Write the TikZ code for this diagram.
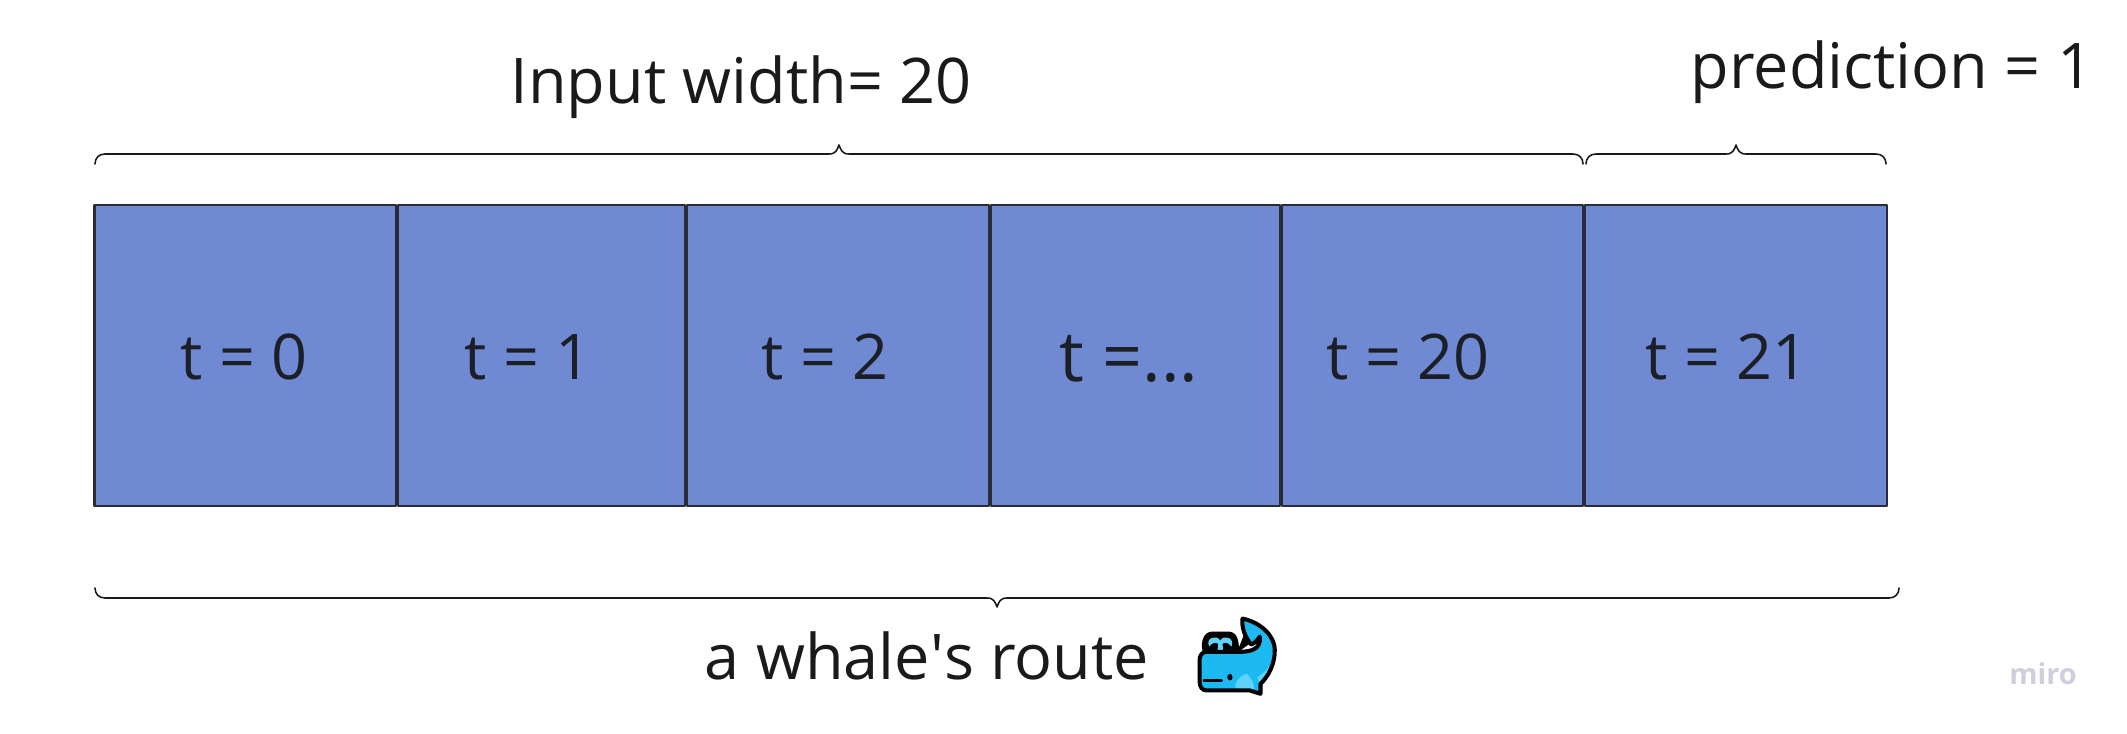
\documentclass[tikz,border=0pt]{standalone}
\usepackage{fontspec}
\setmainfont{Open Sans}
\usetikzlibrary{calc}
\definecolor{cellblue}{HTML}{6F8AD3}
\definecolor{cellink}{HTML}{1C1F26}
\definecolor{inkgrey}{HTML}{1A1A1A}
\definecolor{edgegrey}{HTML}{2A2C35}
\definecolor{whaleblue}{HTML}{1CB9F2}
\definecolor{spoutblue}{HTML}{61D2F7}
\definecolor{mirogrey}{HTML}{CFCFDC}
\newcommand{\whalebody}{(278,146) .. controls (335,158) and (375,200) .. (375,240) .. controls (375,285) and (355,320) .. (332,342) -- (332,372) -- (300,362) -- (170,362) .. controls (156,362) and (149,350) .. (149,335) -- (149,270) .. controls (149,255) and (158,246) .. (170,246) -- (265,246) .. controls (300,246) and (335,240) .. (330,200) .. controls (322,212) and (312,222) .. (304,224) .. controls (288,205) and (274,175) .. (278,146) -- cycle}
\tikzset{
cellbox/.style={draw=edgegrey,line width=0.6pt,fill=cellblue,minimum width=#1*0.01cm,minimum height=300.5*0.01cm,inner sep=0pt,outer sep=0pt},
celltext/.style={text=cellink,font=\fontsize{17.9pt}{20pt}\selectfont,inner sep=0pt,anchor=base},
headtext/.style={text=inkgrey,font=\fontsize{17.9pt}{20pt}\selectfont,inner sep=0pt},
span/.style={draw=inkgrey,line width=0.45pt,to path={(\tikztostart) .. controls +(0,#1*-6) and +(-6,0) .. ++(10,#1*-10) -- ($(\tikztostart)!.5!(\tikztotarget)+(-10,#1*-10)$) .. controls +(7,0) and +(-2,#1*5) .. ++(10,#1*-9) .. controls +(2,#1*5) and +(-7,0) .. ++(10,#1*9) -- ($(\tikztotarget)+(-10,#1*-10)$) .. controls +(6,0) and +(0,#1*-6) .. (\tikztotarget)}}
}
\begin{document}
\begin{tikzpicture}[line cap=round,line join=round,x=0.01cm,y=-0.01cm]
\useasboundingbox (0,0) rectangle (2127,734);
\node (cell0) [cellbox=301.4] at (245.2,355.5) {};
\node (cell1) [cellbox=286.8] at (541.5,355.5) {};
\node (cell2) [cellbox=302.1] at (838.15,355.5) {};
\node (cell3) [cellbox=288.5] at (1135.65,355.5) {};
\node (cell4) [cellbox=301.1] at (1432.65,355.5) {};
\node (cell5) [cellbox=301.6] at (1736.2,355.5) {};
\node (t0) [celltext] at (244,379.5) {t = 0};
\node (t1) [celltext] at (528,379.5) {t = 1};
\node (t2) [celltext] at (825,379.5) {t = 2};
\node (t3) [celltext,font=\fontsize{19.9pt}{22pt}\selectfont] at (1129,381.5) {t =...};
\node (t4) [celltext] at (1408,379.5) {t = 20};
\node (t5) [celltext] at (1727,379.5) {t = 21};
\coordinate (widthleft) at (95,164);
\coordinate (widthright) at (1583,164);
\coordinate (predleft) at (1586,164);
\coordinate (predright) at (1886,164);
\coordinate (routeleft) at (95,588);
\coordinate (routeright) at (1899,588);
\draw [span=1] (widthleft) to (widthright);
\draw [span=1] (predleft) to (predright);
\draw [span=-1] (routeleft) to (routeright);
\node (inputwidth) [headtext] at (741,87) {Input width= 20};
\node (prediction) [headtext] at (1892,72) {prediction = 1};
\node (route) [headtext] at (927,656) {a whale\textquotesingle s route};
\node (miro) [text=mirogrey,font=\fontsize{8.2pt}{9pt}\bfseries\selectfont,inner sep=0pt] at (2043,674) {miro};
% whale
\begin{scope}[shift={(1150,570)},x=0.003333cm,y=-0.003333cm]
% spout lobe and the gap behind the tail
\fill [black] (158,245) .. controls (150,210) and (165,185) .. (187,185) -- (235,185) .. controls (258,185) and (268,205) .. (267,240) -- cycle;
\fill [black] (265,246) -- (330,200) -- (304,224) -- (282,195) -- (266,236) -- cycle;
\fill [whaleblue] \whalebody;
\fill [spoutblue] (202,250) -- (205,222) .. controls (195,215) and (185,220) .. (178,230) .. controls (165,205) and (200,192) .. (211,212) .. controls (222,192) and (256,205) .. (245,230) .. controls (235,218) and (225,215) .. (218,222) -- (220,250) -- cycle;
\fill [spoutblue] (255,350) .. controls (262,325) and (280,312) .. (292,312) .. controls (305,325) and (315,345) .. (312,358) -- (265,358) -- cycle;
\fill [spoutblue] (372,268) .. controls (365,300) and (345,325) .. (330,342) -- (322,322) .. controls (340,312) and (358,295) .. (372,268) -- cycle;
\draw [black,line width=1.15pt] \whalebody;
\fill [black] (240,322) circle [x radius=8,y radius=10];
\draw [black,line width=0.8pt] (162,332) -- (215,332);
\end{scope}
\end{tikzpicture}
\end{document}
